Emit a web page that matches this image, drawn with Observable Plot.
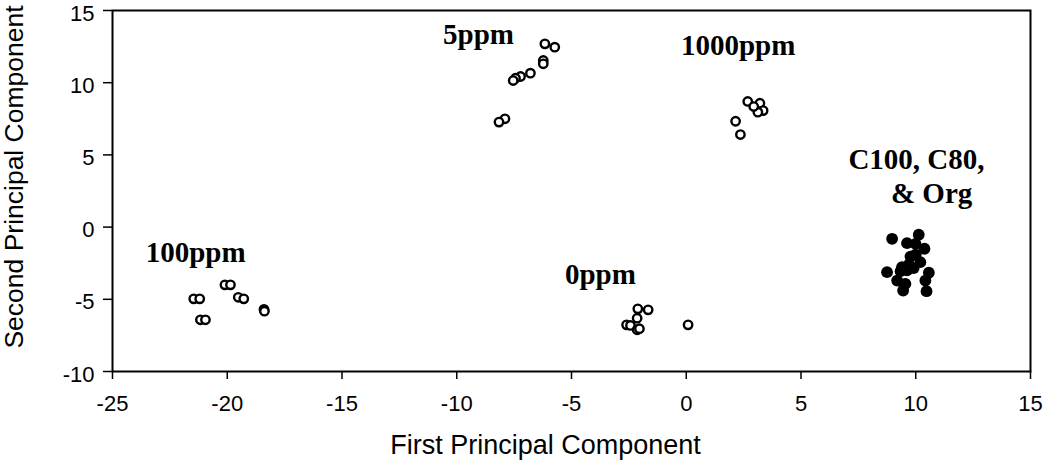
<!DOCTYPE html>
<html>
<head>
<meta charset="utf-8">
<script src="https://cdn.jsdelivr.net/npm/d3@7"></script>
<script src="https://cdn.jsdelivr.net/npm/@observablehq/plot@0.6"></script>
<style>
  html, body { margin: 0; padding: 0; background: #fff; }
</style>
</head>
<body>
<div id="chart"></div>
<script>
// 100 ppm (open circles)
const ppm100X = [-21.46, -21.2, -21.17, -20.95, -20.1, -19.86, -19.52, -19.28, -18.4, -18.38];
const ppm100Y = [-4.97, -4.97, -6.42, -6.42, -4.0, -4.0, -4.86, -4.97, -5.7, -5.82];
// 5 ppm
const ppm5X = [-6.16, -5.73, -6.23, -6.23, -6.79, -7.22, -7.44, -7.54, -7.9, -8.16];
const ppm5Y = [12.69, 12.46, 11.54, 11.31, 10.66, 10.43, 10.31, 10.15, 7.5, 7.27];
// 1000 ppm
const ppm1000X = [2.68, 3.21, 3.35, 3.12, 2.94, 2.15, 2.36];
const ppm1000Y = [8.70, 8.58, 8.07, 7.96, 8.35, 7.33, 6.41];
// 0 ppm
const ppm0X = [-2.11, -1.66, -2.14, -2.6, -2.43, -2.14, -2.04, 0.08];
const ppm0Y = [-5.66, -5.73, -6.31, -6.77, -6.81, -7.11, -7.04, -6.77];
// C100, C80 & Org (filled)
const orgX = [8.97, 10.13, 9.62, 9.99, 10.38, 9.77, 10.2, 9.4, 9.91, 9.62, 8.75, 10.57, 9.19, 9.55, 10.42, 9.45, 10.47, 9.34, 10.0, 9.7];
const orgY = [-0.81, -0.53, -1.11, -1.16, -1.5, -2.04, -2.43, -2.78, -2.84, -3.0, -3.12, -3.16, -3.7, -3.93, -3.7, -4.39, -4.44, -3.05, -1.9, -2.6];

// group labels
const labelText = ["5ppm", "1000ppm", "C100, C80,", "& Org", "100ppm", "0ppm"];
const labelX = [-9.05, 2.26, 10.03, 10.69, -21.38, -3.74];
const labelY = [13.31, 12.55, 4.65, 2.30, -1.79, -3.31];

const xTicks = [-25, -20, -15, -10, -5, 0, 5, 10, 15];
const yTicks = [-10, -5, 0, 5, 10, 15];
const xTitle = "First Principal Component";
const yTitle = "Second Principal Component";

const zip = (xs, ys) => xs.map((x, i) => ({x, y: ys[i]}));
const openPts = [
  ...zip(ppm100X, ppm100Y),
  ...zip(ppm5X, ppm5Y),
  ...zip(ppm1000X, ppm1000Y),
  ...zip(ppm0X, ppm0Y)
];
const filledPts = zip(orgX, orgY);
const labels = labelText.map((t, i) => ({t, x: labelX[i], y: labelY[i]}));
const fmt = d => String(d);

const chart = Plot.plot({
  width: 1050,
  height: 464,
  marginLeft: 112,
  marginRight: 20,
  marginTop: 10,
  marginBottom: 93,
  style: {fontFamily: "'Liberation Sans', Arial, sans-serif", fontSize: "22px", background: "#fff", color: "#000"},
  x: {domain: [-25, 15], ticks: xTicks},
  y: {domain: [-10, 15], ticks: yTicks},
  marks: [
    Plot.frame({stroke: "#000", strokeWidth: 2}),
    Plot.axisX({ticks: xTicks, tickFormat: fmt, tickSize: 8, tickPadding: 16, fontSize: 22, label: null, strokeWidth: 1.5}),
    // y tick lines
    Plot.axisY({ticks: yTicks, tickFormat: () => "", tickSize: 9, tickPadding: 9, label: null, strokeWidth: 1.5}),
    // y tick labels (nudged slightly so the top label stays inside the picture)
    Plot.axisY({ticks: yTicks, tickFormat: fmt, tickSize: 0, tickPadding: 18, dy: 3, fontSize: 22, label: null}),
    Plot.dot(openPts, {x: "x", y: "y", r: 4.2, stroke: "#000", strokeWidth: 2.4, fill: "#fff"}),
    Plot.dot(filledPts, {x: "x", y: "y", r: 5.9, fill: "#000", stroke: "none"}),
    Plot.text(labels, {x: "x", y: "y", text: "t", fontFamily: "'Liberation Serif', 'Times New Roman', serif", fontWeight: "bold", fontSize: 29, fill: "#000"}),
    Plot.text([xTitle], {text: d => d, frameAnchor: "bottom", textAnchor: "middle", lineAnchor: "middle", dx: -26, dy: 74, fontSize: 27, fill: "#000"}),
    Plot.text([yTitle], {text: d => d, frameAnchor: "left", textAnchor: "middle", lineAnchor: "middle", rotate: -90, dx: -98, dy: -14, fontSize: 26.5, fill: "#000"})
  ]
});
document.getElementById("chart").appendChild(chart);
</script>
</body>
</html>
